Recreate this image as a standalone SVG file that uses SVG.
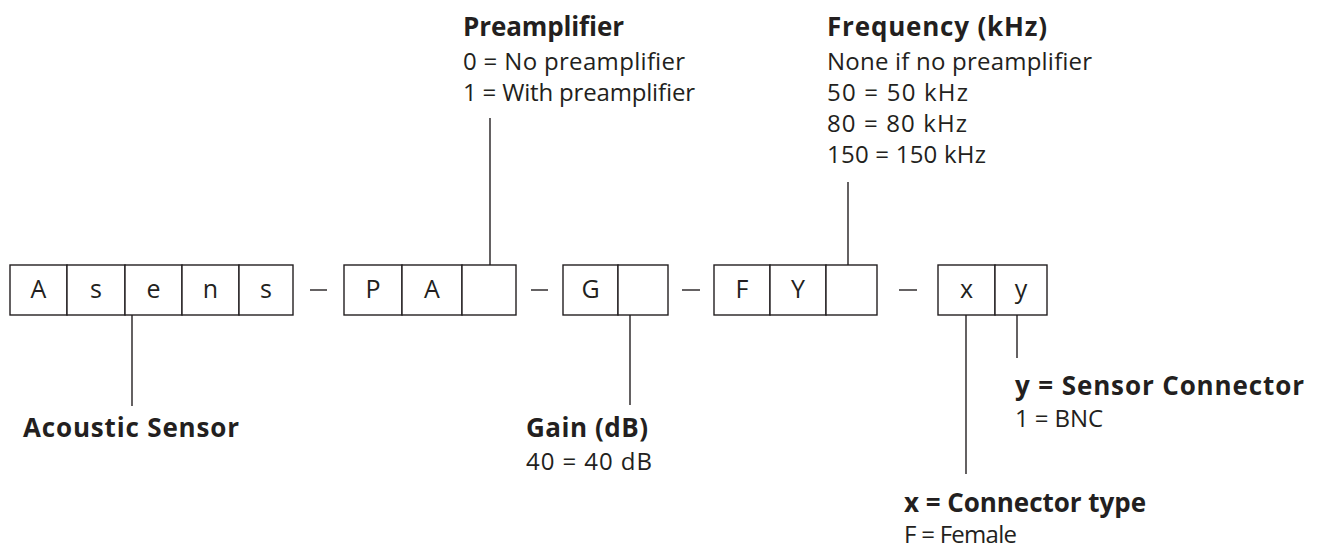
<svg xmlns="http://www.w3.org/2000/svg" width="1320" height="551" viewBox="0 0 1320 551">
<style>
.cell{fill:#fff;stroke:#231f20;stroke-width:1.4}
.ln{stroke:#231f20;stroke-width:1.4;fill:none}
.ch{font-family:"Open Sans","Liberation Sans",sans-serif;font-size:25px;fill:#231f20;text-anchor:middle}
.t{font-family:"Open Sans","Liberation Sans",sans-serif;font-size:26px;font-weight:bold;fill:#231f20}
.s{font-family:"Open Sans","Liberation Sans",sans-serif;font-size:24px;fill:#231f20}
</style>
<rect width="1320" height="551" fill="#fff"/>
<g id="connectors">
<line class="ln" x1="132" y1="315" x2="132" y2="406"/>
<line class="ln" x1="490" y1="118" x2="490" y2="265"/>
<line class="ln" x1="630" y1="315" x2="630" y2="405"/>
<line class="ln" x1="848" y1="182" x2="848" y2="265"/>
<line class="ln" x1="966" y1="315" x2="966" y2="474"/>
<line class="ln" x1="1017" y1="315" x2="1017" y2="358"/>
<line class="ln" x1="310" y1="290" x2="327" y2="290"/>
<line class="ln" x1="531" y1="290" x2="548" y2="290"/>
<line class="ln" x1="682" y1="290" x2="700" y2="290"/>
<line class="ln" x1="899" y1="290" x2="917" y2="290"/>
</g>
<g id="asens">
<rect class="cell" x="10" y="265" width="57" height="50"/>
<rect class="cell" x="67" y="265" width="58" height="50"/>
<rect class="cell" x="125" y="265" width="57" height="50"/>
<rect class="cell" x="182" y="265" width="57" height="50"/>
<rect class="cell" x="239" y="265" width="54" height="50"/>
<text class="ch" x="38.5" y="298">A</text>
<text class="ch" x="96" y="298">s</text>
<text class="ch" x="153.5" y="298">e</text>
<text class="ch" x="210.5" y="298">n</text>
<text class="ch" x="266" y="298">s</text>
</g>
<g id="pa">
<rect class="cell" x="344" y="265" width="58" height="50"/>
<rect class="cell" x="402" y="265" width="60" height="50"/>
<rect class="cell" x="462" y="265" width="54" height="50"/>
<text class="ch" x="373" y="298">P</text>
<text class="ch" x="432" y="298">A</text>
</g>
<g id="g">
<rect class="cell" x="563" y="265" width="55" height="50"/>
<rect class="cell" x="618" y="265" width="50" height="50"/>
<text class="ch" x="590.5" y="298">G</text>
</g>
<g id="fy">
<rect class="cell" x="714" y="265" width="56" height="50"/>
<rect class="cell" x="770" y="265" width="56" height="50"/>
<rect class="cell" x="826" y="265" width="51" height="50"/>
<text class="ch" x="742" y="298">F</text>
<text class="ch" x="798" y="298">Y</text>
</g>
<g id="xy">
<rect class="cell" x="938" y="265" width="57" height="50"/>
<rect class="cell" x="995" y="265" width="52" height="50"/>
<text class="ch" x="966.5" y="298">x</text>
<text class="ch" x="1021" y="298">y</text>
</g>
<g id="preamplifier">
<text class="t" x="463" y="36" textLength="161" lengthAdjust="spacing">Preamplifier</text>
<text class="s" x="463" y="70" textLength="222" lengthAdjust="spacing">0 = No preamplifier</text>
<text class="s" x="463" y="101" textLength="232" lengthAdjust="spacing">1 = With preamplifier</text>
</g>
<g id="frequency">
<text class="t" x="827" y="36" textLength="220" lengthAdjust="spacing">Frequency (kHz)</text>
<text class="s" x="827" y="70" textLength="265" lengthAdjust="spacing">None if no preamplifier</text>
<text class="s" x="827" y="101" textLength="141" lengthAdjust="spacing">50 = 50 kHz</text>
<text class="s" x="827" y="132" textLength="140" lengthAdjust="spacing">80 = 80 kHz</text>
<text class="s" x="827" y="163" textLength="159" lengthAdjust="spacing">150 = 150 kHz</text>
</g>
<g id="acoustic">
<text class="t" x="23" y="437" textLength="216" lengthAdjust="spacing">Acoustic Sensor</text>
</g>
<g id="gain">
<text class="t" x="526" y="437" textLength="122" lengthAdjust="spacing">Gain (dB)</text>
<text class="s" x="526" y="470" textLength="126" lengthAdjust="spacing">40 = 40 dB</text>
</g>
<g id="sensor-connector">
<text class="t" x="1015" y="395" textLength="289" lengthAdjust="spacing">y = Sensor Connector</text>
<text class="s" x="1015" y="427" textLength="88" lengthAdjust="spacing">1 = BNC</text>
</g>
<g id="connector-type">
<text class="t" x="904" y="512" textLength="242" lengthAdjust="spacing">x = Connector type</text>
<text class="s" x="904" y="543" textLength="113" lengthAdjust="spacing">F = Female</text>
</g>
</svg>
